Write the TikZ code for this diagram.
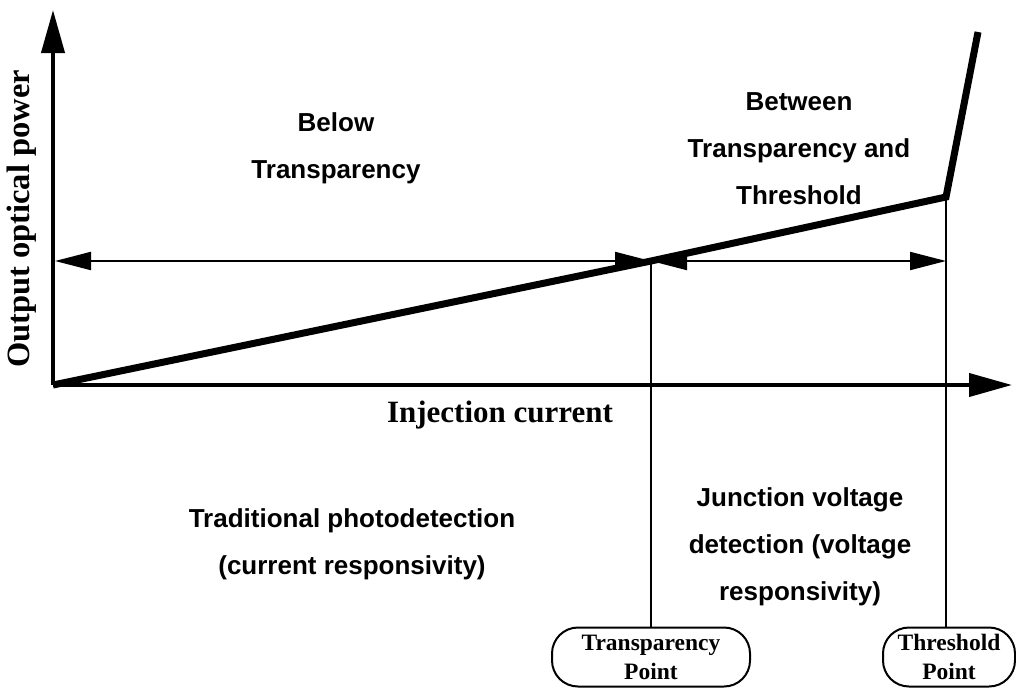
\documentclass[tikz,border=0pt]{standalone}
\usepackage{fontspec}
\setmainfont{Liberation Serif}
\newfontfamily\helv{Liberation Sans}
\usetikzlibrary{arrows.meta}

\tikzset{
  axis/.style={line width=4pt,-{Triangle[length=43pt,width=23pt]}},
  curve/.style={line width=7pt,line join=miter},
  span/.style={line width=2pt,{Triangle[length=36pt,width=18pt]}-{Triangle[length=36pt,width=18pt]}},
  drop/.style={line width=2pt},
  region/.style={font=\helv\bfseries\fontsize{26}{47}\selectfont,align=center},
  axlabel/.style={font=\bfseries\fontsize{31}{34}\selectfont},
  pointbox/.style={draw,line width=2pt,rounded corners=26pt,align=center,
    font=\bfseries\fontsize{23.5}{29}\selectfont,inner sep=0pt}
}

\begin{document}
\begin{tikzpicture}[x=1pt,y=-1pt]

% white page with the reference proportions
\useasboundingbox (0,0) rectangle (1016,688);

% key points
\coordinate (O) at (53,385);
\coordinate (ytop) at (53,10);
\coordinate (xend) at (1012,385);
\coordinate (T) at (651,261);
\coordinate (H) at (946,197);
\coordinate (L) at (55,261);
\coordinate (top) at (978,32);

% axes
\draw [axis] (O) -- (ytop);
\draw [axis] (O) -- (xend);

% output power curve
\draw [curve] (O) -- (T) -- (H) -- (top);

% ranges
\draw [span] (L) -- (T);
\draw [span] (T) -- (T -| H);

% point boxes
\node [pointbox,minimum width=198pt,minimum height=59pt] (tpbox) at (651,657) {Transparency\\Point};
\node [pointbox,minimum width=132pt,minimum height=59pt] (thbox) at (949,657) {Threshold\\Point};

\draw [drop] (T) -- (tpbox.north);
\draw [drop] (H) -- (H |- thbox.north);

% labels
\node [axlabel] (xlab) at (500,415) {Injection current};
\node [axlabel,rotate=90,font=\bfseries\fontsize{32.5}{34}\selectfont] (ylab) at (22,219) {Output optical power};

\node [region] (below) at (336,148) {Below\\Transparency};
\node [region] (between) at (799,149) {Between\\Transparency and\\Threshold};
\node [region] (trad) at (352,544) {Traditional photodetection\\(current responsivity)};
\node [region] (junc) at (800,547) {Junction voltage\\detection (voltage\\responsivity)};

\end{tikzpicture}
\end{document}
